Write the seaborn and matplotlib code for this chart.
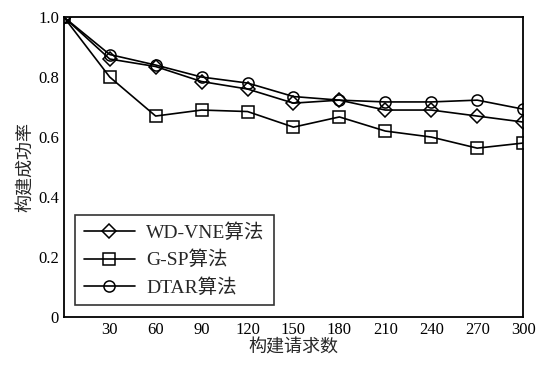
import pandas as pd
import matplotlib.pyplot as plt
import seaborn as sns

requests = [0, 30, 60, 90, 120, 150, 180, 210, 240, 270, 300]
wd_vne = [1.0, 0.86, 0.835, 0.785, 0.76, 0.713, 0.723, 0.69, 0.69, 0.67, 0.65]
g_sp = [1.0, 0.80, 0.67, 0.69, 0.685, 0.633, 0.667, 0.62, 0.60, 0.563, 0.58]
dtar = [1.0, 0.875, 0.84, 0.80, 0.78, 0.735, 0.723, 0.717, 0.717, 0.723, 0.693]
names = ['WD-VNE算法', 'G-SP算法', 'DTAR算法']
markers = ['D', 's', 'o']

df = pd.DataFrame({'req': requests * 3,
                   'rate': wd_vne + g_sp + dtar,
                   'alg': [n for n in names for _ in requests]})

sns.set_style('white')
plt.rcParams['font.family'] = ['Liberation Serif', 'Noto Sans CJK SC']

fig = plt.figure(figsize=(5.36, 3.70), dpi=100)
ax = fig.add_axes([0.119, 0.143, 0.857, 0.811])

for name, mk in zip(names, markers):
    sub = df[df['alg'] == name]
    ms = 7 if mk == 'D' else 8
    sns.lineplot(data=sub, x='req', y='rate', ax=ax, color='black', lw=1.2,
                 marker=mk, markersize=ms, markerfacecolor='none',
                 markeredgecolor='black', markeredgewidth=1.1, label=name)

ax.set_xlim(0, 300)
ax.set_ylim(0, 1.0)
ax.set_xticks(requests[1:])
ax.set_yticks([0, 0.2, 0.4, 0.6, 0.8, 1.0])
ax.set_yticklabels(['0', '0.2', '0.4', '0.6', '0.8', '1.0'])
ax.tick_params(direction='in', length=3, labelsize=12, colors='black')
for s in ax.spines.values():
    s.set_color('black')
    s.set_linewidth(1.3)
ax.set_xlabel('构建请求数', fontsize=13, labelpad=1)
ax.set_ylabel('构建成功率', fontsize=13, labelpad=2)

leg = ax.legend(loc='lower left', fontsize=14, frameon=True, fancybox=False,
                edgecolor='black', handlelength=2.6, borderpad=0.45,
                labelspacing=0.45, borderaxespad=0.6, handletextpad=0.6)
leg.get_frame().set_linewidth(1.2)

fig.savefig('out.png', dpi=100)
